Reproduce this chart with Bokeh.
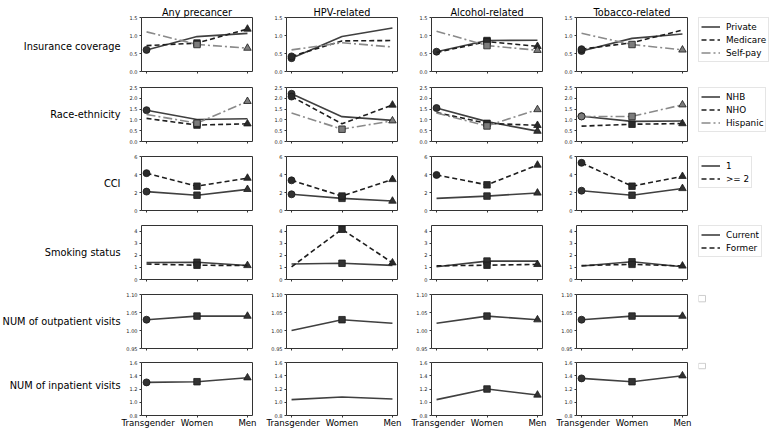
from bokeh.plotting import figure
from bokeh.layouts import gridplot
from bokeh.models import Range1d, FixedTicker, PrintfTickFormatter, Legend, LegendItem, ColumnDataSource
from bokeh.core.properties import value
from bokeh.embed import file_html
from bokeh.resources import INLINE

# ---------------- data ----------------
groups = ["Transgender", "Women", "Men"]
outcomes = ["Any precancer", "HPV-related", "Alcohol-related", "Tobacco-related"]
row_labels = ["Insurance coverage", "Race-ethnicity", "CCI", "Smoking status",
              "NUM of outpatient visits", "NUM of inpatient visits"]

ins_names = ["Private", "Medicare", "Self-pay"]
ins_private = [[0.60, 0.97, 1.06], [0.37, 0.97, 1.21], [0.55, 0.86, 0.87], [0.57, 0.92, 1.04]]
ins_medicare = [[0.72, 0.79, 1.18], [0.42, 0.85, 0.86], [0.53, 0.83, 0.70], [0.62, 0.80, 1.15]]
ins_selfpay = [[1.10, 0.75, 0.65], [0.60, 0.80, 0.68], [1.12, 0.72, 0.59], [1.06, 0.75, 0.60]]
ins_private_mk = [[1, 0, 0], [1, 0, 0], [1, 1, 0], [1, 0, 0]]
ins_medicare_mk = [[0, 1, 1], [1, 0, 0], [0, 1, 1], [1, 0, 0]]
ins_selfpay_mk = [[0, 1, 1], [0, 0, 0], [0, 1, 1], [0, 1, 1]]

race_names = ["NHB", "NHO", "Hispanic"]
race_nhb = [[1.45, 1.02, 1.05], [2.21, 1.15, 0.98], [1.55, 0.92, 0.48], [1.17, 0.93, 0.95]]
race_nho = [[1.07, 0.76, 0.82], [2.08, 0.82, 1.69], [1.34, 0.84, 0.75], [0.71, 0.80, 0.83]]
race_hisp = [[1.25, 0.85, 1.86], [1.32, 0.57, 0.96], [1.32, 0.72, 1.48], [1.16, 1.16, 1.70]]
race_nhb_mk = [[1, 0, 0], [1, 0, 0], [1, 0, 1], [1, 0, 0]]
race_nho_mk = [[0, 1, 1], [1, 0, 1], [0, 1, 1], [0, 1, 1]]
race_hisp_mk = [[0, 1, 1], [0, 1, 1], [0, 1, 1], [1, 1, 1]]

cci_names = ["1", ">= 2"]
cci_1 = [[2.10, 1.70, 2.35], [1.80, 1.35, 1.05], [1.35, 1.60, 1.95], [2.20, 1.70, 2.45]]
cci_2 = [[4.15, 2.70, 3.60], [3.35, 1.60, 3.45], [3.95, 2.85, 5.05], [5.30, 2.70, 3.80]]
cci_1_mk = [[1, 1, 1], [1, 1, 1], [0, 1, 1], [1, 1, 1]]
cci_2_mk = [[1, 1, 1], [1, 1, 1], [1, 1, 1], [1, 1, 1]]

smk_names = ["Current", "Former"]
smk_cur = [[1.40, 1.42, 1.16], [1.28, 1.34, 1.17], [1.05, 1.52, 1.52], [1.12, 1.46, 1.05]]
smk_for = [[1.28, 1.18, 1.15], [1.05, 4.15, 1.38], [1.13, 1.18, 1.25], [1.15, 1.25, 1.12]]
smk_cur_mk = [[0, 1, 1], [0, 1, 0], [0, 1, 0], [0, 1, 0]]
smk_for_mk = [[0, 1, 0], [0, 1, 1], [0, 1, 1], [0, 1, 1]]

out_vis = [[1.03, 1.04, 1.04], [1.00, 1.03, 1.02], [1.02, 1.04, 1.03], [1.03, 1.04, 1.04]]
out_vis_mk = [[1, 1, 1], [0, 1, 0], [0, 1, 1], [1, 1, 1]]

inp_vis = [[1.30, 1.31, 1.37], [1.04, 1.08, 1.05], [1.04, 1.20, 1.11], [1.36, 1.31, 1.40]]
inp_vis_mk = [[1, 1, 1], [0, 0, 0], [0, 1, 1], [1, 1, 1]]

y_limits = [(0, 1.5), (0, 2.5), (0, 6), (0, 4.46), (0.95, 1.10), (0.8, 1.6)]
y_ticks = [[0, 0.5, 1.0, 1.5], [0, 0.5, 1.0, 1.5, 2.0, 2.5], [0, 2, 4, 6], [0, 1, 2, 3, 4],
           [0.95, 1.0, 1.05, 1.10], [0.8, 1.0, 1.2, 1.4, 1.6]]
y_formats = ["%.1f", "%.1f", "%d", "%d", "%.2f", "%.1f"]

rows_data = [
    ([ins_private, ins_medicare, ins_selfpay], [ins_private_mk, ins_medicare_mk, ins_selfpay_mk], ins_names),
    ([race_nhb, race_nho, race_hisp], [race_nhb_mk, race_nho_mk, race_hisp_mk], race_names),
    ([cci_1, cci_2], [cci_1_mk, cci_2_mk], cci_names),
    ([smk_cur, smk_for], [smk_cur_mk, smk_for_mk], smk_names),
    ([out_vis], [out_vis_mk], []),
    ([inp_vis], [inp_vis_mk], []),
]

# ---------------- styles ----------------
LINE_STY = [
    dict(line_color="#404040", line_dash="solid", fill="#333333"),
    dict(line_color="#1e1e1e", line_dash="5 3", fill="#2a2a2a"),
    dict(line_color="#8a8a8a", line_dash="9 3 2 3", fill="#7c7c7c"),
]
MARKERS = ["circle", "square", "triangle"]
MSIZE = [7, 6.5, 7.5]
FONT = "DejaVu Sans"

FRAME_W, FRAME_H = 111, 58
ROW_BORDERS = [(13, 6), (6, 5), (6, 5), (6, 5), (6, 5), (5, 14)]
LABEL_W = 121
LEG_W = 73
xs = list(range(len(groups)))


def blank_fig(w, h, left=0, right=0, top=0, bottom=0):
    p = figure(width=w, height=h, x_range=Range1d(0, w - left - right), y_range=Range1d(0, h - top - bottom),
               toolbar_location=None, output_backend="svg", title=None,
               x_axis_location=None, y_axis_location=None, min_border=0,
               min_border_left=left, min_border_right=right, min_border_top=top, min_border_bottom=bottom)
    p.xgrid.visible = False
    p.ygrid.visible = False
    p.outline_line_color = None
    return p


def panel_width(c):
    right = 10 if c == 3 else 14
    return 20 + FRAME_W + right, right


def make_panel(r, c):
    series, marks, _ = rows_data[r]
    top, bottom = ROW_BORDERS[r]
    w, right = panel_width(c)
    lo, hi = y_limits[r]
    p = figure(width=w, height=top + FRAME_H + bottom,
               x_range=Range1d(-0.1, 2.1), y_range=Range1d(lo, hi),
               toolbar_location=None, output_backend="svg",
               title=(outcomes[c] if r == 0 else None), min_border=1,
               min_border_left=20, min_border_right=right,
               min_border_top=top, min_border_bottom=bottom)
    if r == 0:
        p.title.align = "center"
        p.title.text_font = FONT
        p.title.text_font_style = "normal"
        p.title.text_font_size = "9.7px"
        p.title.text_color = "black"
        p.title.standoff = 0
        p.title.offset = 0
    p.xgrid.visible = False
    p.ygrid.visible = False
    p.outline_line_color = "#333333"
    p.outline_line_width = 1

    for ax in (p.xaxis[0], p.yaxis[0]):
        ax.axis_line_color = None
        ax.minor_tick_line_color = None
        ax.major_tick_in = 0
        ax.major_tick_out = 2
        ax.major_tick_line_color = "#333333"
        ax.major_label_text_font = FONT
        ax.major_label_text_color = "#222222"

    p.yaxis.ticker = FixedTicker(ticks=y_ticks[r])
    p.yaxis.formatter = PrintfTickFormatter(format=y_formats[r])
    p.yaxis.major_label_text_font_size = "5px"
    p.yaxis.major_label_standoff = 2

    p.xaxis.ticker = FixedTicker(ticks=xs)
    p.xaxis.major_label_overrides = {i: g for i, g in enumerate(groups)}
    if r == len(rows_data) - 1:
        p.xaxis.major_label_text_font_size = "8.6px"
        p.xaxis.major_label_standoff = 0
        p.xaxis.major_label_text_color = "black"
    else:
        p.xaxis.major_label_text_font_size = "1px"
        p.xaxis.major_label_text_alpha = 0
        p.xaxis.major_label_standoff = 0

    for s, (vals, mk) in enumerate(zip(series, marks)):
        st = LINE_STY[s]
        p.line(xs, vals[c], line_color=st["line_color"], line_dash=st["line_dash"], line_width=1.6)
        sel = [i for i in xs if mk[c][i]]
        if sel:
            src = ColumnDataSource(dict(
                x=[xs[i] for i in sel], y=[vals[c][i] for i in sel],
                m=[MARKERS[i] for i in sel], sz=[MSIZE[i] for i in sel]))
            p.scatter("x", "y", marker="m", size="sz", source=src,
                      fill_color=st["fill"], line_color="#1a1a1a", line_width=0.8)
    return p


def make_row_label(r):
    top, bottom = ROW_BORDERS[r]
    h = top + FRAME_H + bottom
    p = blank_fig(LABEL_W, h)
    p.text(x=[LABEL_W - 1], y=[h - top - FRAME_H / 2], text=[row_labels[r]],
           text_align="right", text_baseline="middle", text_font=value(FONT),
           text_font_size="9.8px", text_color="black")
    return p


def make_legend(r):
    _, _, names = rows_data[r]
    top, bottom = ROW_BORDERS[r]
    h = top + FRAME_H + bottom
    off = top + 4
    p = blank_fig(LEG_W, h, left=1, top=off)
    if names:
        items = []
        for s, name in enumerate(names):
            st = LINE_STY[s]
            rr = p.line(x=[-50, -40], y=[-50, -50], line_color=st["line_color"],
                        line_dash=st["line_dash"], line_width=1.6)
            items.append(LegendItem(label=name, renderers=[rr]))
        lg = Legend(items=items, location="top_left", margin=0, padding=2, spacing=0,
                    glyph_width=19, glyph_height=13, label_height=13, label_standoff=6,
                    label_text_font=FONT, label_text_font_size="8.8px",
                    label_text_color="black", border_line_color="#cccccc",
                    border_line_width=1, background_fill_color="white",
                    background_fill_alpha=1)
        p.add_layout(lg)
    else:
        yt = h - off - 1
        p.quad(left=[0], right=[7], top=[yt], bottom=[yt - 7],
               fill_color="white", line_color="#cccccc", line_width=1)
    return p


grid_rows = []
for r in range(len(rows_data)):
    row_figs = [make_row_label(r)] + [make_panel(r, c) for c in range(len(outcomes))]
    row_figs.append(make_legend(r))
    grid_rows.append(row_figs)

layout = gridplot(grid_rows, toolbar_location=None)

with open("out.html", "w") as f:
    f.write(file_html(layout, INLINE))
